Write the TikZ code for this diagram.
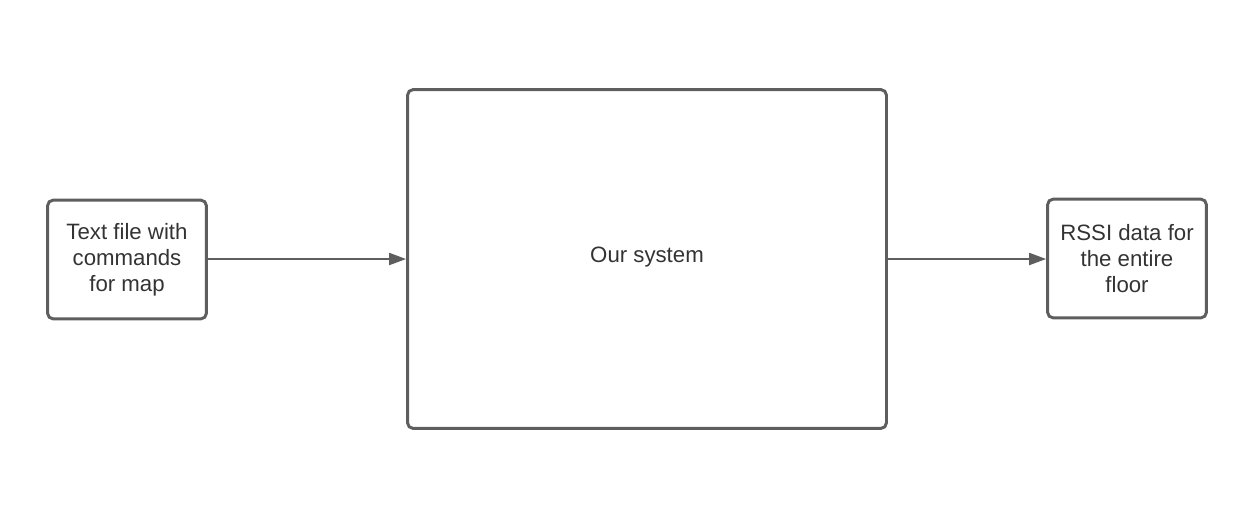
\documentclass[tikz,border=0pt]{standalone}
\usepackage{fontspec}
\setmainfont{Liberation Sans}
\usetikzlibrary{arrows.meta}
\definecolor{linegray}{HTML}{5E5E5E}
\definecolor{textgray}{HTML}{333333}
\tikzset{
  block/.style={draw=linegray, line width=2.1pt, rounded corners=4pt, align=center,
    text=textgray, font=\fontsize{15.8}{18.5}\selectfont, inner sep=0pt},
  flow/.style={draw=linegray, line width=1.4pt, -{Triangle[length=12pt, width=8.5pt]}}
}
\begin{document}
\begin{tikzpicture}[x=0.025cm, y=-0.025cm]
    \useasboundingbox (0, 0) rectangle (1246, 508);

    \node [block, minimum width=3.97cm, minimum height=2.97cm] (input) at (127, 259.5) {Text file with\\commands\\for map};
    \node [block, minimum width=11.97cm, minimum height=8.47cm] (system) at (647, 259) {};
    \node [text=textgray, font=\fontsize{15.8}{18.5}\selectfont] (label) at (647, 257) {Our system};
    \node [block, minimum width=3.97cm, minimum height=2.97cm] (output) at (1127, 258.5) {RSSI data for\\the entire\\floor};

    \draw [flow] (input.east |- system) to (system);
    \draw [flow] (system) to (output.west |- system);

\end{tikzpicture}
\end{document}
